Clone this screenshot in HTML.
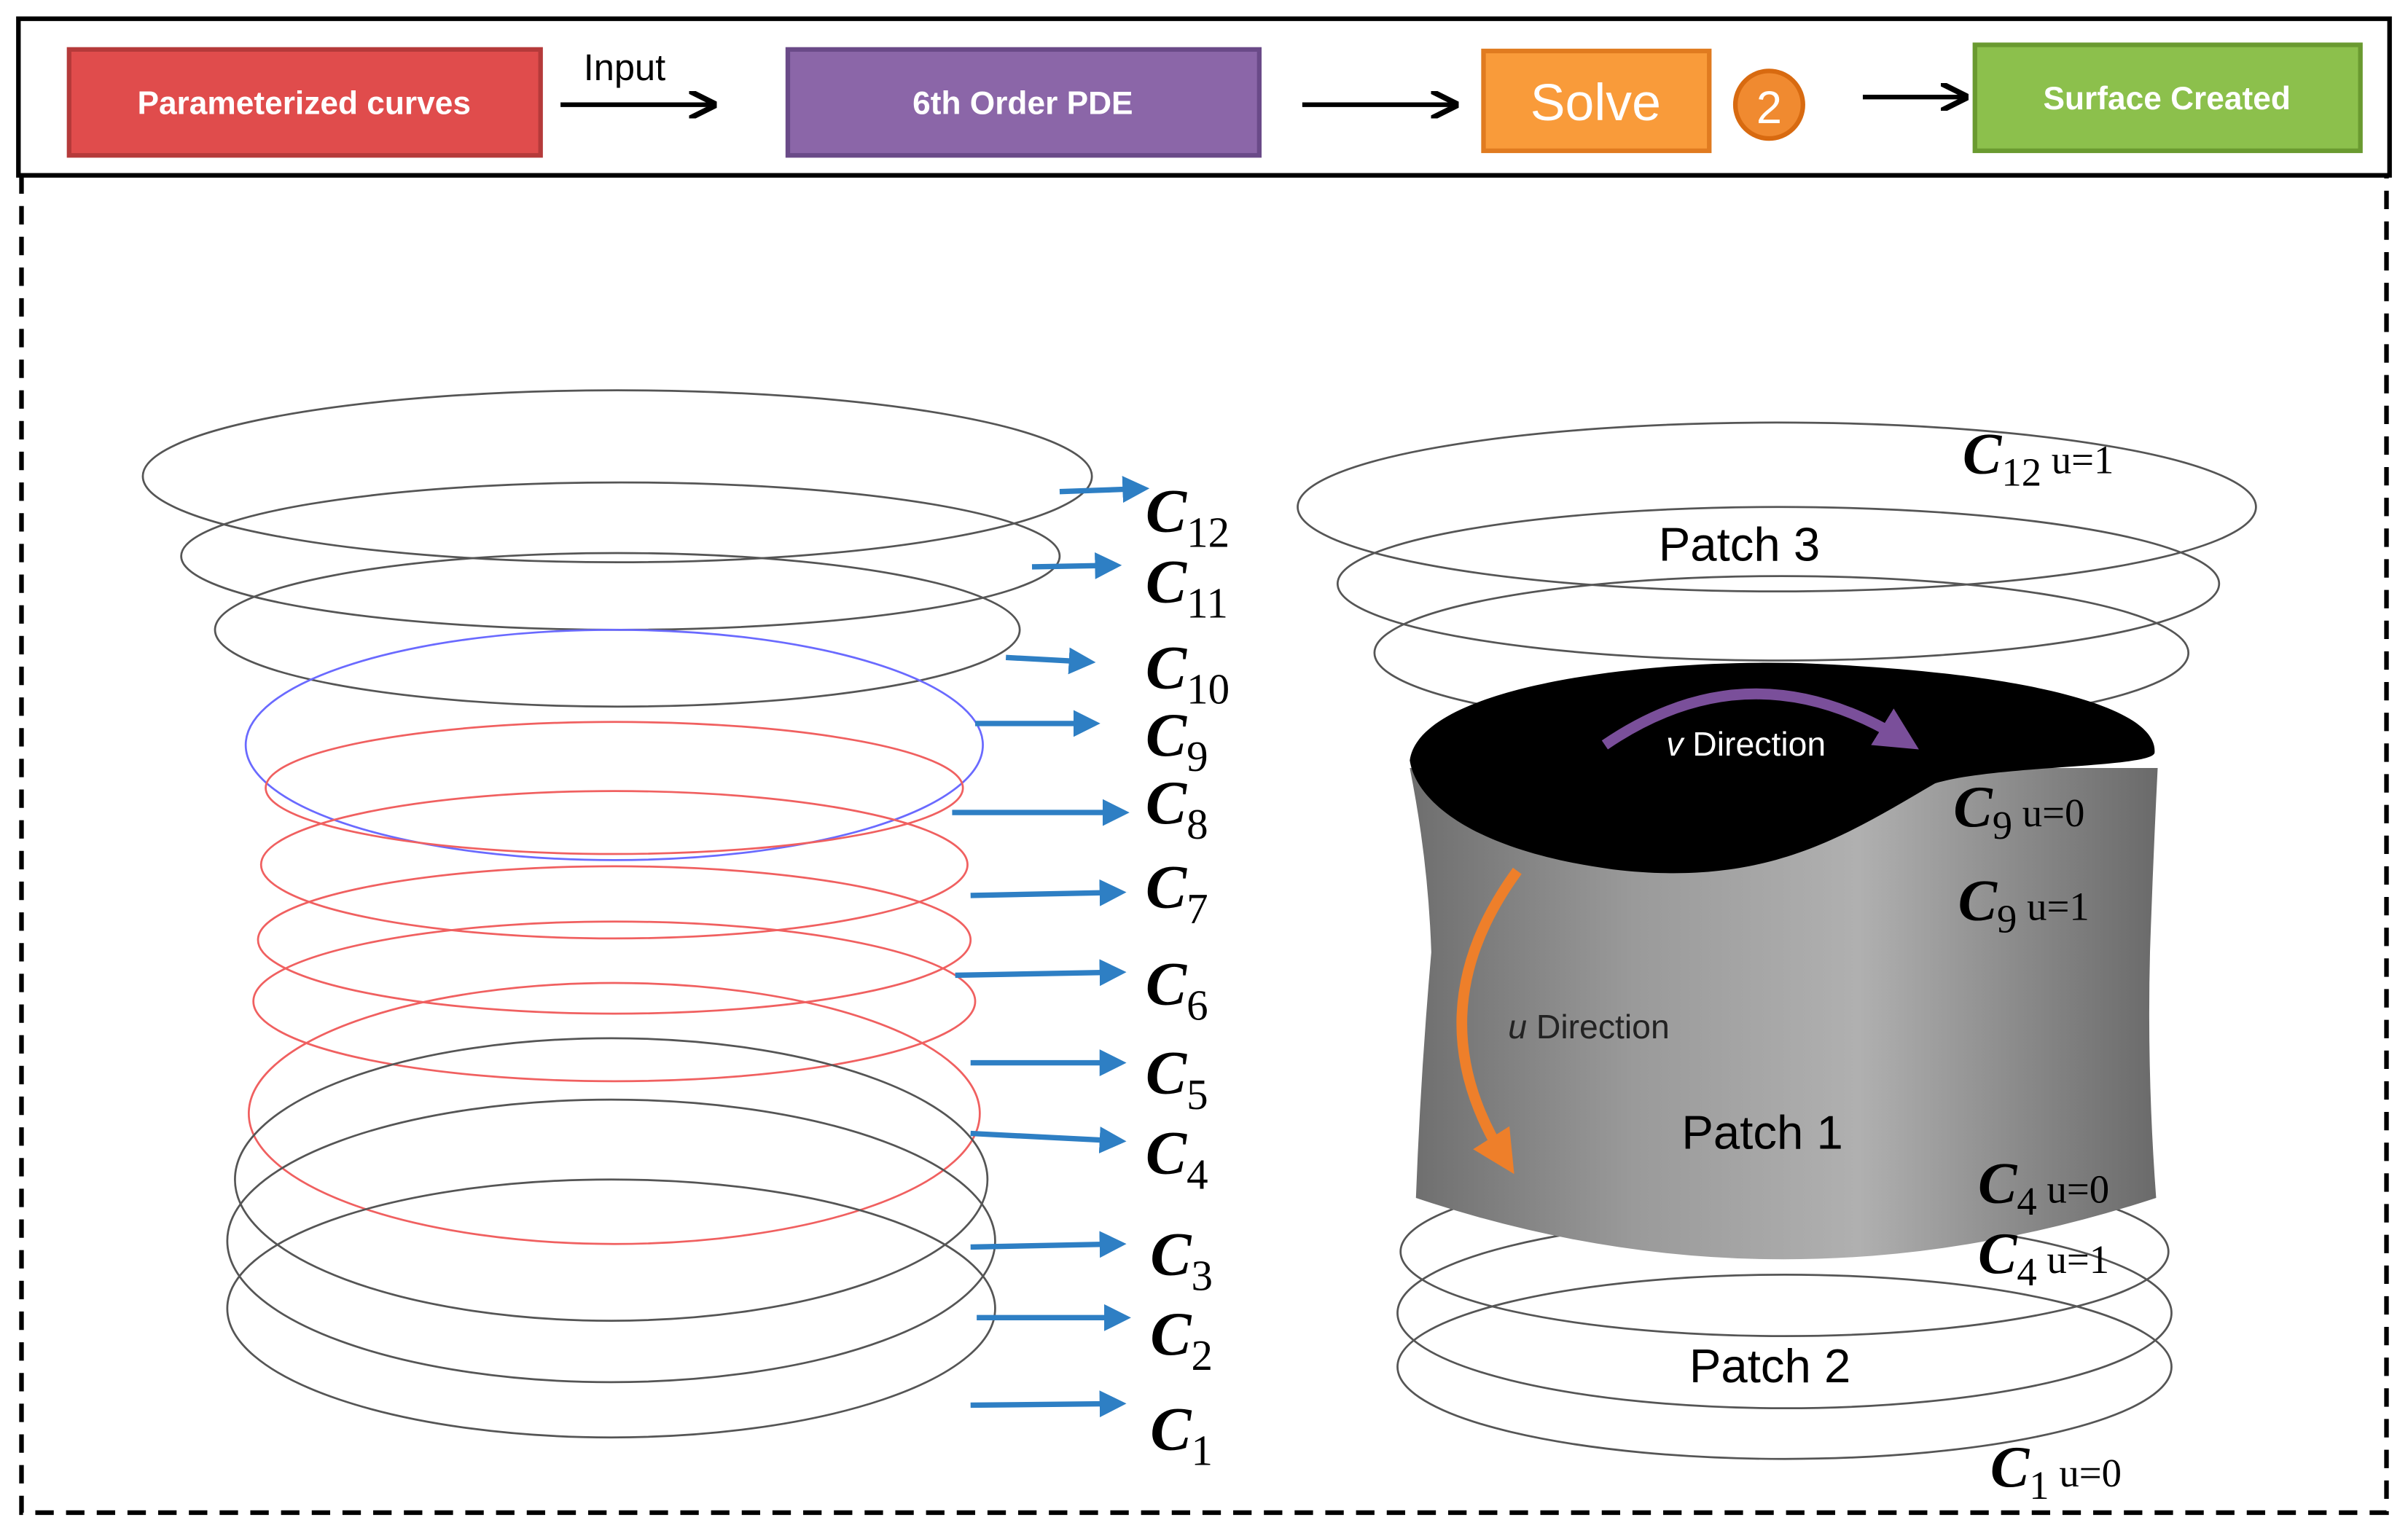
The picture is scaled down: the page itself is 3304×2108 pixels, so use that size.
<!DOCTYPE html>
<html><head><meta charset="utf-8"><style>
html,body{margin:0;padding:0;background:#fff;}
svg{display:block;}
</style></head><body>
<svg width="3304" height="2108" viewBox="0 0 1568 1000" xmlns="http://www.w3.org/2000/svg">
<defs>
<marker id="ak" viewBox="0 0 10 10" refX="9" refY="5" markerWidth="6" markerHeight="6" orient="auto"><path d="M0,0 L10,5 L0,10" fill="none" stroke="#000" stroke-width="2"/></marker>
<marker id="ab" viewBox="0 0 10 10" refX="8" refY="5" markerWidth="5" markerHeight="5" orient="auto"><path d="M0,0 L10,5 L0,10 z" fill="#2e7fc4"/></marker>
<marker id="ap" viewBox="0 0 10 10" refX="6" refY="5" markerWidth="4" markerHeight="4" orient="auto"><path d="M0,0 L10,5 L0,10 z" fill="#7a4f9a"/></marker>
<marker id="ao" viewBox="0 0 10 10" refX="6" refY="5" markerWidth="4" markerHeight="4" orient="auto"><path d="M0,0 L10,5 L0,10 z" fill="#ee7f2a"/></marker>
<linearGradient id="gb" x1="0" x2="1" y1="0" y2="0">
<stop offset="0" stop-color="#6e6e6e"/><stop offset="0.3" stop-color="#9a9a9a"/><stop offset="0.6" stop-color="#b0b0b0"/><stop offset="1" stop-color="#6a6a6a"/></linearGradient>
</defs>
<rect x="12" y="12" width="1544" height="102" fill="none" stroke="#000" stroke-width="3"/>
<path d="M14,114 V985 H1554 V114" fill="none" stroke="#000" stroke-width="3" stroke-dasharray="12,8"/>

<rect x="45" y="32" width="307" height="69" fill="#e04c4c" stroke="#b53a3a" stroke-width="3"/>
<text x="198" y="74" text-anchor="middle" font-family="Liberation Sans,sans-serif" font-weight="bold" font-size="21" fill="#fff">Parameterized curves</text>
<line x1="365" y1="68" x2="465" y2="68" stroke="#000" stroke-width="3" marker-end="url(#ak)"/>
<text x="380" y="52" font-family="Liberation Sans,sans-serif" font-size="24">Input</text>
<rect x="513" y="32" width="307" height="69" fill="#8b66a8" stroke="#6a4a88" stroke-width="3"/>
<text x="666" y="74" text-anchor="middle" font-family="Liberation Sans,sans-serif" font-weight="bold" font-size="21" fill="#fff">6th Order PDE</text>
<line x1="848" y1="68" x2="948" y2="68" stroke="#000" stroke-width="3" marker-end="url(#ak)"/>
<rect x="966" y="33" width="147" height="65" fill="#f99b3a" stroke="#e07b20" stroke-width="3"/>
<text x="1039" y="78" text-anchor="middle" font-family="Liberation Sans,sans-serif" font-size="34" fill="#fff">Solve</text>
<circle cx="1152" cy="68" r="22" fill="#f08a30" stroke="#d86a10" stroke-width="3"/>
<text x="1152" y="80" text-anchor="middle" font-family="Liberation Sans,sans-serif" font-size="30" fill="#fff">2</text>
<line x1="1213" y1="63" x2="1280" y2="63" stroke="#000" stroke-width="3" marker-end="url(#ak)"/>
<rect x="1286" y="29" width="251" height="69" fill="#8cc04c" stroke="#6a9a30" stroke-width="3"/>
<text x="1411" y="71" text-anchor="middle" font-family="Liberation Sans,sans-serif" font-weight="bold" font-size="21" fill="#fff">Surface Created</text>

<g fill="none" stroke-width="1.3">
<ellipse cx="402" cy="310" rx="309" ry="56" stroke="#555" stroke-dasharray="1500,40"/>
<ellipse cx="404" cy="362" rx="286" ry="48" stroke="#555" stroke-dasharray="1500,40"/>
<ellipse cx="402" cy="410" rx="262" ry="50" stroke="#555" stroke-dasharray="1500,40"/>
<ellipse cx="400" cy="485" rx="240" ry="75" stroke="#6a6aff" stroke-dasharray="1500,30"/>
<ellipse cx="400" cy="513" rx="227" ry="43" stroke="#f06060" stroke-dasharray="1500,30"/>
<ellipse cx="400" cy="563" rx="230" ry="48" stroke="#f06060" stroke-dasharray="1500,30"/>
<ellipse cx="400" cy="612" rx="232" ry="48" stroke="#f06060" stroke-dasharray="1500,30"/>
<ellipse cx="400" cy="652" rx="235" ry="52" stroke="#f06060" stroke-dasharray="1500,30"/>
<ellipse cx="400" cy="725" rx="238" ry="85" stroke="#f06060" stroke-dasharray="1500,30"/>
<ellipse cx="398" cy="768" rx="245" ry="92" stroke="#555" stroke-dasharray="1500,30"/>
<ellipse cx="398" cy="808" rx="250" ry="92" stroke="#555" stroke-dasharray="1500,30"/>
<ellipse cx="398" cy="852" rx="250" ry="84" stroke="#555" stroke-dasharray="1500,30"/>
</g>
<g stroke="#2e7fc4" stroke-width="3.5" marker-end="url(#ab)">
<line x1="690" y1="320" x2="745" y2="318"/>
<line x1="672" y1="369" x2="727" y2="368"/>
<line x1="655" y1="428" x2="710" y2="431"/>
<line x1="635" y1="471" x2="713" y2="471"/>
<line x1="620" y1="529" x2="732" y2="529"/>
<line x1="632" y1="583" x2="730" y2="581"/>
<line x1="622" y1="635" x2="730" y2="633"/>
<line x1="632" y1="692" x2="730" y2="692"/>
<line x1="632" y1="738" x2="730" y2="743"/>
<line x1="632" y1="812" x2="730" y2="810"/>
<line x1="636" y1="858" x2="733" y2="858"/>
<line x1="632" y1="915" x2="730" y2="914"/>
</g>
<g font-family="Liberation Serif,serif" font-style="italic" font-weight="bold" font-size="40" fill="#000">
<text x="746" y="346">C<tspan font-size="28" font-style="normal" font-weight="normal" dy="10">12</tspan></text>
<text x="746" y="392">C<tspan font-size="28" font-style="normal" font-weight="normal" dy="10">11</tspan></text>
<text x="746" y="448">C<tspan font-size="28" font-style="normal" font-weight="normal" dy="10">10</tspan></text>
<text x="746" y="492">C<tspan font-size="28" font-style="normal" font-weight="normal" dy="10">9</tspan></text>
<text x="746" y="536">C<tspan font-size="28" font-style="normal" font-weight="normal" dy="10">8</tspan></text>
<text x="746" y="591">C<tspan font-size="28" font-style="normal" font-weight="normal" dy="10">7</tspan></text>
<text x="746" y="654">C<tspan font-size="28" font-style="normal" font-weight="normal" dy="10">6</tspan></text>
<text x="746" y="712">C<tspan font-size="28" font-style="normal" font-weight="normal" dy="10">5</tspan></text>
<text x="746" y="764">C<tspan font-size="28" font-style="normal" font-weight="normal" dy="10">4</tspan></text>
<text x="749" y="830">C<tspan font-size="28" font-style="normal" font-weight="normal" dy="10">3</tspan></text>
<text x="749" y="882">C<tspan font-size="28" font-style="normal" font-weight="normal" dy="10">2</tspan></text>
<text x="749" y="944">C<tspan font-size="28" font-style="normal" font-weight="normal" dy="10">1</tspan></text>
</g>

<g fill="none" stroke="#555" stroke-width="1.3">
<ellipse cx="1157" cy="330" rx="312" ry="55" stroke-dasharray="1700,40"/>
<ellipse cx="1158" cy="380" rx="287" ry="50" stroke-dasharray="1600,40"/>
<ellipse cx="1160" cy="425" rx="265" ry="50" stroke-dasharray="1500,40"/>
<ellipse cx="1162" cy="815" rx="250" ry="55"/>
<ellipse cx="1162" cy="855" rx="252" ry="62"/>
<ellipse cx="1162" cy="890" rx="252" ry="60"/>
</g>
<path d="M918,500 Q930,560 932,620 Q925,700 922,780 Q1160,860 1404,780 Q1398,700 1400,620 Q1402,560 1405,500 Z" fill="url(#gb)"/>
<path d="M918,495 C925,445 1080,428 1180,432 C1320,438 1405,460 1403,490 C1402,500 1300,498 1260,510 C1200,545 1150,578 1050,566 C960,554 922,522 918,495 Z" fill="#000"/>
<path d="M1045,485 Q1140,420 1240,482" fill="none" stroke="#7a4f9a" stroke-width="7" marker-end="url(#ap)"/>
<path d="M988,567 Q920,660 980,755" fill="none" stroke="#ee7f2a" stroke-width="7" marker-end="url(#ao)"/>
<g font-family="Liberation Sans,sans-serif" font-size="22">
<text x="1085" y="492" fill="#fff"><tspan font-style="italic">v</tspan> Direction</text>
<text x="982" y="676" fill="#222"><tspan font-style="italic">u</tspan> Direction</text>
</g>
<g font-family="Liberation Sans,sans-serif" font-size="31" fill="#000">
<text x="1080" y="365">Patch 3</text>
<text x="1095" y="748">Patch 1</text>
<text x="1100" y="900">Patch 2</text>
</g>
<g font-family="Liberation Serif,serif" font-size="26" fill="#000">
<text x="1278" y="308"><tspan font-style="italic" font-weight="bold" font-size="38">C</tspan><tspan dy="8">12</tspan><tspan dy="-8"> u=1</tspan></text>
<text x="1272" y="538"><tspan font-style="italic" font-weight="bold" font-size="38">C</tspan><tspan dy="8">9</tspan><tspan dy="-8"> u=0</tspan></text>
<text x="1275" y="599"><tspan font-style="italic" font-weight="bold" font-size="38">C</tspan><tspan dy="8">9</tspan><tspan dy="-8"> u=1</tspan></text>
<text x="1288" y="783"><tspan font-style="italic" font-weight="bold" font-size="38">C</tspan><tspan dy="8">4</tspan><tspan dy="-8"> u=0</tspan></text>
<text x="1288" y="829"><tspan font-style="italic" font-weight="bold" font-size="38">C</tspan><tspan dy="8">4</tspan><tspan dy="-8"> u=1</tspan></text>
<text x="1296" y="968"><tspan font-style="italic" font-weight="bold" font-size="38">C</tspan><tspan dy="8">1</tspan><tspan dy="-8">  u=0</tspan></text>
</g>
</svg>
</body></html>
